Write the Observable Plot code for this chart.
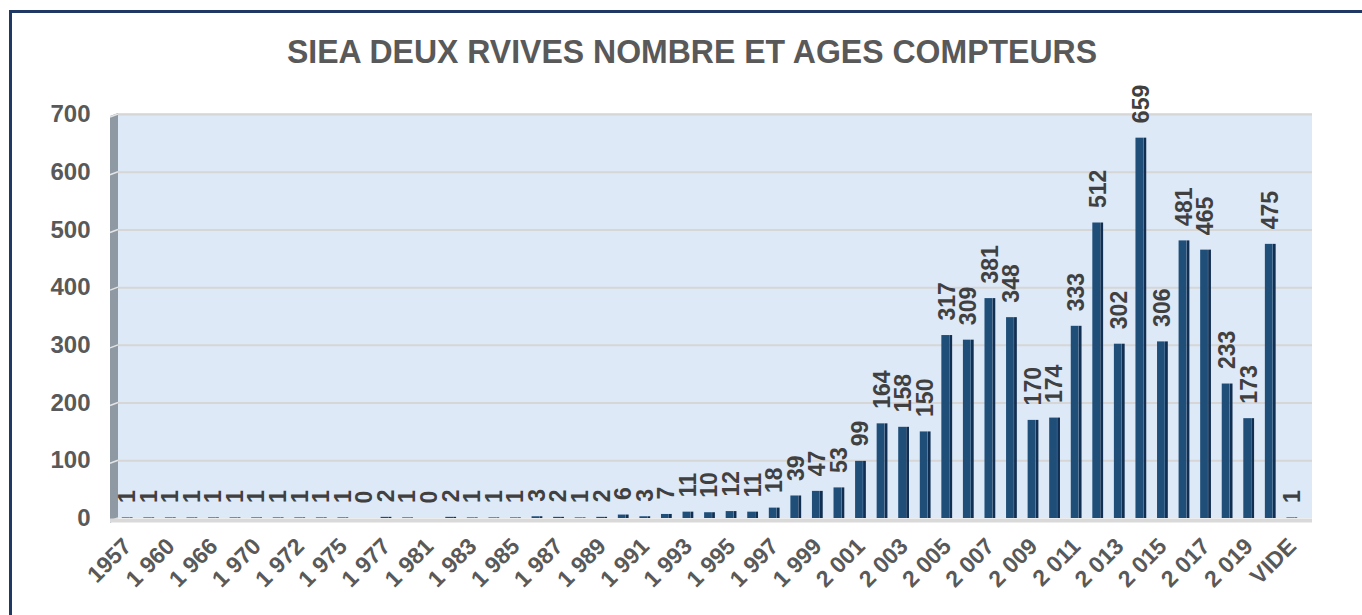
<!DOCTYPE html>
<html>
<head>
<meta charset="utf-8">
<script src="https://cdn.jsdelivr.net/npm/d3@7"></script>
<script src="https://cdn.jsdelivr.net/npm/@observablehq/plot@0.6"></script>
<style>
  html, body { margin: 0; padding: 0; background: #ffffff; }
  #wrap { position: relative; width: 1362px; height: 615px; overflow: hidden; font-family: "Liberation Sans", Arial, sans-serif; }
  #border { position: absolute; left: 9px; top: 10px; width: 1400px; height: 700px; border-top: 3px solid #1f3864; border-left: 3px solid #1f3864; }
  #title { position: absolute; left: 0; top: 0; }
  #chart { position: absolute; left: 0; top: 0; }
</style>
</head>
<body>
<div id="wrap">
  <div id="chart"></div>
  <div id="border"></div>
  <svg id="title" width="1362" height="80"></svg>
</div>
<script>
const titleText = "SIEA DEUX RVIVES NOMBRE ET AGES COMPTEURS";

const categories = [
  "1957", "1 959", "1 960", "1 963", "1 966", "1 968", "1 970", "1 971", "1 972", "1 974",
  "1 975", "1 976", "1 977", "1 979", "1 981", "1 982", "1 983", "1 984", "1 985", "1 986",
  "1 987", "1 988", "1 989", "1 990", "1 991", "1 992", "1 993", "1 994", "1 995", "1 996",
  "1 997", "1 998", "1 999", "2 000", "2 001", "2 002", "2 003", "2 004", "2 005", "2 006",
  "2 007", "2 008", "2 009", "2 010", "2 011", "2 012", "2 013", "2 014", "2 015", "2 016",
  "2 017", "2 018", "2 019", "2 020", "VIDE"
];

const values = [
  1, 1, 1, 1, 1, 1, 1, 1, 1, 1,
  1, 0, 2, 1, 0, 2, 1, 1, 1, 3,
  2, 1, 2, 6, 3, 7, 11, 10, 12, 11,
  18, 39, 47, 53, 99, 164, 158, 150, 317, 309,
  381, 348, 170, 174, 333, 512, 302, 659, 306, 481,
  465, 233, 173, 475, 1
];

const yTicks = [0, 100, 200, 300, 400, 500, 600, 700];
const shownTicks = categories.filter((d, i) => i % 2 === 0);

const data = categories.map((c, i) => ({cat: c, value: values[i]}));

// title
const t = d3.select("#title");
t.append("text")
  .attr("x", 692).attr("y", 63)
  .attr("text-anchor", "middle")
  .attr("textLength", 810)
  .attr("lengthAdjust", "spacingAndGlyphs")
  .attr("fill", "#595959")
  .attr("font-family", "Liberation Sans, Arial, sans-serif")
  .attr("font-weight", "bold")
  .attr("font-size", 33)
  .text(titleText);

// backdrop: light blue plot area + grey left wall
function backdrop(index, scales, values, dims) {
  const y = scales.y;
  const top = y(yTicks[yTicks.length - 1]);
  const x0 = dims.marginLeft, x1 = dims.width - dims.marginRight;
  const g = d3.create("svg:g");
  g.append("rect")
    .attr("x", x0 + 7).attr("y", top - 1)
    .attr("width", x1 + 4 - (x0 + 7)).attr("height", y(0) - top + 1)
    .attr("fill", "#dde9f7");
  g.append("path")
    .attr("d", `M${x0 - 1},${top + 2} L${x0 + 7},${top - 1} L${x0 + 7},${y(0)} L${x0 - 1},${y(0) + 5} Z`)
    .attr("fill", "#8e99a4");
  for (const v of yTicks) {
    g.append("path")
      .attr("d", `M${x0 - 1},${y(v) + 3} L${x0 + 7},${y(v)}`)
      .attr("stroke", "#e4e4e4").attr("stroke-width", 1.5).attr("fill", "none");
  }
  return g.node();
}

const chart = Plot.plot({
  width: 1362,
  height: 615,
  marginLeft: 111,
  marginRight: 54,
  marginTop: 114,
  marginBottom: 97,
  style: {fontFamily: "Liberation Sans, Arial, sans-serif", fontWeight: "bold", fontSize: "22px", background: "transparent", overflow: "visible"},
  x: {domain: categories, padding: 0.5, axis: null, label: null},
  y: {domain: [0, 700], axis: null, label: null},
  marks: [
    backdrop,
    Plot.ruleY(yTicks.filter(d => d > 0), {stroke: "#d6d6d6", strokeWidth: 2, insetLeft: 7, insetRight: -4}),
    Plot.ruleY([0], {stroke: "#d9d9d9", strokeWidth: 4, dy: 2, insetLeft: -1, insetRight: -4}),
    Plot.barY(data, {x: "cat", y: "value", fill: "#1f4e79", insetRight: 3}),
    Plot.barY(data, {x: "cat", y: "value", fill: "#112f52", insetLeft: 8}),
    Plot.text(data, {x: "cat", y: "value", text: d => String(d.value), rotate: -90, textAnchor: "start", dy: -15, fill: "#404040", fontSize: 23, fontWeight: "bold"}),
    Plot.axisY({ticks: yTicks, label: null, tickSize: 0, tickPadding: 21, fill: "#595959", fontSize: 24, fontWeight: "bold"}),
    Plot.axisX({ticks: shownTicks, label: null, tickRotate: -45, tickSize: 0, tickPadding: 24, fill: "#595959", fontSize: 23, fontWeight: "bold", letterSpacing: "0.5px"})
  ]
});

document.getElementById("chart").appendChild(chart);
</script>
</body>
</html>
